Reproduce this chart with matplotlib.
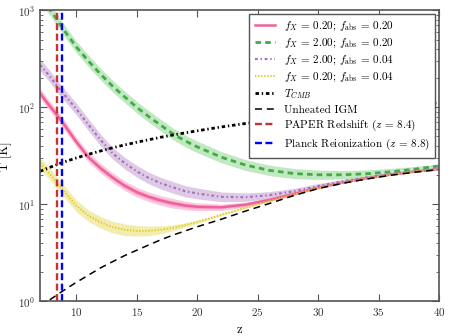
import matplotlib
matplotlib.use("Agg")
import matplotlib.pyplot as plt
import numpy as np

plt.rcParams.update(
    {
        "font.family": "cmr10",
        "mathtext.fontset": "cm",
        "axes.formatter.use_mathtext": True,
        "font.size": 8,
        "axes.labelsize": 9,
        "xtick.labelsize": 8,
        "ytick.labelsize": 8,
        "legend.fontsize": 8,
        "lines.scale_dashes": False,
    }
)

# redshift grid
z = [7, 7.5, 8, 8.5, 9, 10, 11, 12, 13, 14, 15, 16, 17, 18, 19, 20,
     22, 24, 26, 28, 30, 32, 34, 36, 38, 40]

# temperature curves [K]
T_fx02_fa02 = [140, 115, 96, 80, 66, 44, 30.5, 23.5, 18.8, 15.5, 13.3, 11.9, 10.9, 10.2, 9.7, 9.4,
               9.3, 9.9, 11.1, 12.8, 14.8, 16.7, 18.5, 20.2, 21.7, 23.0]
T_fx2_fa02 = [1450, 1150, 950, 770, 620, 420, 300, 220, 165, 128, 100, 80, 65, 53, 45, 39,
              30.5, 25.3, 22.3, 20.7, 20.1, 20.1, 20.6, 21.6, 23.0, 24.8]
T_fx2_fa004 = [274, 232, 194, 160, 135, 96, 66, 46, 33.5, 26.5, 21.8, 18.6, 16.4, 14.9, 13.6, 12.9,
               11.9, 11.8, 12.4, 13.6, 15.4, 17.2, 18.9, 20.6, 21.9, 23.1]
T_fx02_fa004 = [26.5, 22.5, 19.2, 16.0, 13.5, 9.6, 7.6, 6.5, 5.8, 5.45, 5.3, 5.3, 5.45, 5.7, 6.1, 6.55,
                7.8, 9.2, 10.8, 12.6, 14.7, 16.6, 18.4, 20.1, 21.6, 22.9]
T_cmb = [21.8, 23.2, 24.5, 25.9, 27.3, 30.0, 32.7, 35.4, 38.2, 40.9, 43.6, 46.3, 49.1, 51.8, 54.5, 57.2,
         62.7, 68.1, 73.6, 79.0, 84.5, 89.9, 95.4, 100.8, 106.3, 111.7]
T_igm = [0.88, 0.97, 1.07, 1.18, 1.30, 1.56, 1.85, 2.2, 2.55, 2.95, 3.35, 3.8, 4.3, 4.8, 5.3, 5.85,
         7.0, 8.5, 10.2, 12.3, 14.5, 16.4, 18.2, 19.9, 21.4, 22.8]

# half widths of the shaded bands, in dex
hw_fx02_fa02 = [0.05] * 14 + [0.045, 0.04, 0.033, 0.026, 0.02, 0.016, 0.012, 0.01, 0.008, 0.006, 0.005, 0.004]
hw_fx2_fa02 = [0.06] * 16 + [0.058, 0.056, 0.054, 0.052, 0.048, 0.044, 0.04, 0.035, 0.028, 0.02]
hw_fx2_fa004 = [0.06] * 14 + [0.058, 0.056, 0.05, 0.044, 0.036, 0.03, 0.024, 0.02, 0.016, 0.012, 0.009, 0.006]
hw_fx02_fa004 = [0.06] * 10 + [0.055, 0.05, 0.04, 0.03, 0.022, 0.016, 0.01, 0.007] + [0.005] * 8

z_paper = 8.4
z_planck = 8.8

fig, ax = plt.subplots(figsize=(4.5, 3.36), dpi=100)
fig.subplots_adjust(left=0.089, right=0.976, bottom=0.104, top=0.969)

zz = np.array(z)


def band(T, hw, color, alpha):
    T = np.array(T)
    f = 10 ** np.array(hw)
    ax.fill_between(zz, T / f, T * f, color=color, alpha=alpha, lw=0)


band(T_fx2_fa02, hw_fx2_fa02, '#8fd88f', 0.55)
band(T_fx2_fa004, hw_fx2_fa004, '#c9a6d6', 0.6)
band(T_fx02_fa02, hw_fx02_fa02, '#f7a8c8', 0.6)
band(T_fx02_fa02, np.array(hw_fx02_fa02) / 2, '#f28ab5', 0.5)
band(T_fx02_fa004, hw_fx02_fa004, '#ece07a', 0.6)

ax.plot(z, T_fx02_fa02, color='#f0609c', lw=1.8, label=r'$f_X$ = 0.20; $f_{\rm abs}$ = 0.20')
ax.plot(z, T_fx2_fa02, color='#44aa44', lw=2, dashes=(4, 3), label=r'$f_X$ = 2.00; $f_{\rm abs}$ = 0.20')
ax.plot(z, T_fx2_fa004, color='#a070b8', lw=1.5, dashes=(2, 2, 1, 2), label=r'$f_X$ = 2.00; $f_{\rm abs}$ = 0.04')
ax.plot(z, T_fx02_fa004, color='#e0cc20', lw=1.4, dashes=(1, 1.2), label=r'$f_X$ = 0.20; $f_{\rm abs}$ = 0.04')
ax.plot(z, T_cmb, color='black', lw=2, dashes=(2.5, 2, 1, 2), label=r'$T_{CMB}$')
ax.plot(z, T_igm, color='black', lw=1.1, dashes=(5, 3.5), label='Unheated IGM')
ax.axvline(z_paper, color='#c83232', lw=1.7, dashes=(5, 2.5), label=r'PAPER Redshift ($z$ = 8.4)')
ax.axvline(z_planck, color='#0000ff', lw=1.7, dashes=(5, 2.5), label=r'Planck Reionization ($z$ = 8.8)')

ax.set_yscale('log')
ax.set_xlim(7, 40)
ax.set_ylim(1, 1000)
ax.set_xticks([10, 15, 20, 25, 30, 35, 40])
ax.set_xlabel('z')
ax.set_ylabel('T [K]')

for s in ax.spines.values():
    s.set_color('#555555')
    s.set_linewidth(1.2)
ax.tick_params(which='both', direction='in', top=True, right=True, colors='#555555', labelcolor='#333333')
ax.tick_params(which='major', length=5)
ax.tick_params(which='minor', length=2.5)
ax.tick_params(axis='x', which='minor', bottom=False, top=False)

leg = ax.legend(loc='upper right', fancybox=False, handlelength=1.8, borderaxespad=0.35,
                labelspacing=0.32, borderpad=0.5, edgecolor='#555555', framealpha=1)
leg.get_frame().set_linewidth(1)

plt.savefig('out.png', dpi=100)
